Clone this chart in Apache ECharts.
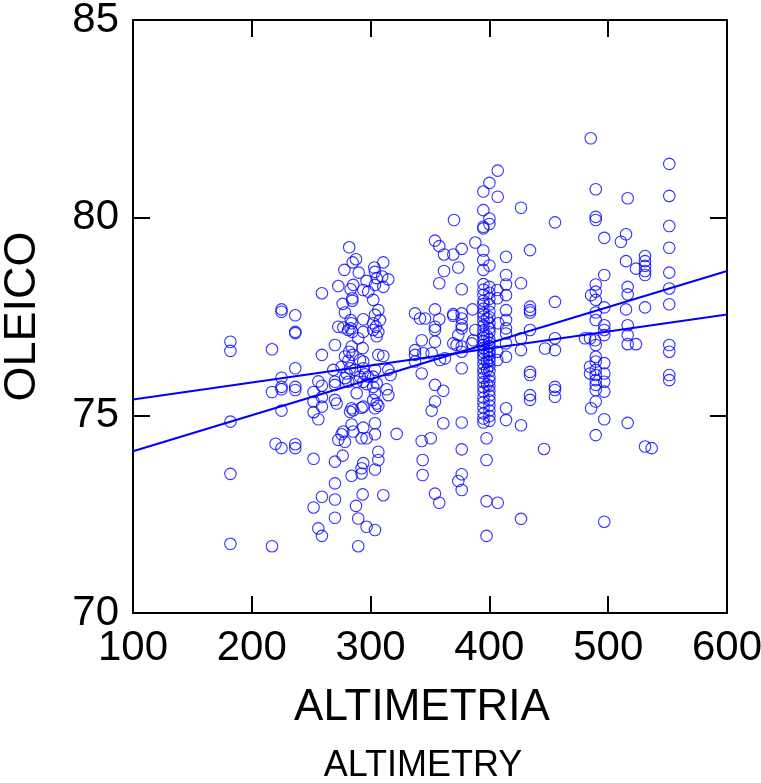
<!DOCTYPE html>
<html>
<head>
<meta charset="utf-8">
<script src="https://cdn.jsdelivr.net/npm/echarts@6/dist/echarts.min.js"></script>
<style>
html,body{margin:0;padding:0;background:#fff;}
#chart{width:761px;height:783px;}
</style>
</head>
<body>
<div id="chart"></div>
<script>
// Axis ticks
const xTicks = [100, 200, 300, 400, 500, 600];
const yTicks = [70, 75, 80, 85];

// Observations [ALTIMETRIA, OLEICO], grouped by altitude region
const ptsLow = [
 [182,76.86],[182,76.63],[182,74.84],[182,73.52],[182,71.75],
 [217,76.67],[217,71.69],[217,75.59],[220,74.28],
 [225,77.68],[225,77.62],[225,75.95],[225,75.72],[225,75.66],[225,75.12],[225,74.17],
 [236.6,77.53],[236.6,77.11],[236.6,77.08],[236.6,76.19],[236.6,75.72],[236.6,75.64],[236.6,74.27],[236.6,74.17],
 [252,75.59],[252,75.35],[252,75.08],[252,73.90],[252,72.67],
 [256,75.86],[256,72.14],[256,74.9],
 [259,78.09],[259,76.53],[259,75.75],[259,75.46],[259,75.22],[259,72.94],[259,71.95]
];
const pts300 = [
 [282,79.25],[287.7,78.95],[284.9,78.87],[277.9,78.68],[290,78.61],[303.1,78.74],[310.7,78.87],[303.7,78.63],
 [272.8,78.27],[285.4,78.30],[283.2,78.19],[296.6,78.40],[293.8,78.17],[298,78.13],[305.1,78.47],[309.8,78.51],
 [314.9,78.44],[310.7,78.25],[303.7,78.30],[284.6,77.96],[284.6,77.90],[302.2,77.92],[276.5,77.82],[278.4,77.60],
 [306.5,77.66],[303.7,77.54],[307.9,77.41],[293.8,77.43],[283.2,77.41],[284,77.33],[283.2,77.20],[284.6,77.11],
 [281.2,77.16],[272.8,77.24],[277,77.22],[302.2,77.33],[304.5,77.24],[302.2,77.16],[306.5,77.11],[305.1,77.0],
 [293.8,77.11],[289.6,76.95],[270,76.78],[284,76.74],[282,76.61],[284.8,76.53],[293.3,76.70],[278.4,76.49],
 [281.2,76.38],[306.5,76.53],[310.7,76.50],[291,76.40],[293.8,76.36],[275.6,76.23],[268.6,76.15],[282.7,76.19],
 [286.9,76.15],[279.8,76.06],[278.4,75.94],[281.2,75.85],[293.8,76.19],[295.3,76.04],[298,75.98],[291,75.98],
 [288.3,75.85],[293.8,75.85],[296.6,75.79],[303.7,76.15],[302.2,75.98],[305.1,75.81],[314.9,76.15],[316.8,76.02],
 [270,75.85],[270,75.77],[288.3,75.56],[302.2,75.72],[303.7,75.56],[313.5,75.66],[314.9,75.51],[270,75.39],
 [271.4,75.30],[284,75.18],[285.4,75.13],[293.8,75.22],[302.2,75.39],[305.1,75.30],[303.7,75.18],[306.5,75.24],
 [337.4,77.58],[341.6,77.45],[343,76.9],[337.4,76.65],[337.4,76.53],[337.4,76.36],[343,76.06],
 [282.7,75.09],[292.4,75.19],[284,74.77],[277,74.59],[275.6,74.52],[272.8,74.38],[278.4,74.33],[285.4,74.59],
 [293.8,74.69],[292.4,74.42],[296.6,74.42],[303.7,74.80],[303.7,74.52],[321.9,74.53],[343,74.35],[270,73.83],
 [276.5,73.98],[306.5,74.08],[306.5,73.87],[303.7,73.63],[293.8,73.79],[292.4,73.66],[292.4,73.53],[284,73.47],
 [343.8,73.87],[343.8,73.49],[270,73.28],[293.3,73.0],[310.7,72.98],[270,72.87],[287.7,72.71],[270,72.41],
 [289.6,72.39],[296.6,72.18],[303.7,72.10],[289.6,71.69]
];
const pts400 = [
 [407,81.19],[400,80.88],[394.9,80.66],[407,80.53],[426.6,80.25],[394.9,80.19],[370.2,79.94],[400,79.98],
 [400,79.84],[394.9,79.77],[394.9,79.73],[455.2,79.88],[354.2,79.42],[357.8,79.28],[388.2,79.37],[376.7,79.21],
 [369.6,79.07],[361.8,79.07],[394.9,79.17],[434.2,79.18],[414,79.01],[394.9,78.93],[400,78.79],[394.9,78.68],
 [373.8,78.74],[361.8,78.65],[414,78.55],[414,78.31],[357.8,78.34],[376.7,78.19],[426.6,78.34],[406.6,78.17],
 [406.6,77.96],[414,78.04],[455.2,77.87],[434.2,77.75],[434.2,77.66],[434.2,77.60],[414,77.66],[414,77.41],
 [385.8,77.68],[376.7,77.58],[376.7,77.45],[369.6,77.56],[369.6,77.52],[354.2,77.68],[357.8,77.43],[345.8,77.45],
 [407.5,77.33],[354.2,77.24],[376.7,77.28],[354.2,77.16],[373.8,77.03],[376.7,77.2],[388.2,77.16],[414,77.2],
 [414,77.07],[414,76.82],[434.2,77.16],[426.6,76.95],[426.6,76.65],[455.2,76.95],[455.2,76.65],[354.2,76.86],
 [369.6,76.82],[372.4,76.78],[376.7,76.74],[376.7,76.61],[385,76.82],[386.4,76.9],[344.4,76.57],[351.4,76.57],
 [358.4,76.4],[362.6,76.44],[406.6,76.61],[406.6,76.4],[414,76.48],[446.8,76.69],[376.7,76.19],[434.2,76.1],
 [434.2,76.02],[455.2,75.72],[455.2,75.64],[455.2,75.47],[434.2,75.51],[434.2,75.39],[354.2,75.77],[361.2,75.62],
 [354.2,75.35],[351.4,75.12],[414,75.18],[414,74.88],[426.6,74.75],[361.2,74.8],[376.7,74.82],[397.6,74.42],
 [397.6,73.87],[397.6,72.83],[397.6,71.95],[350.6,74.42],[376.7,74.14],[446,74.15],[376.7,73.51],[373.8,73.34],
 [376.7,73.11],[354.2,73.02],[357.8,72.79],[407,72.79],[426.6,72.38]
];
// the dense column at about 400 m
const col400 = [
 [395,78.32],[395,78.18],[395,78.05],[395,77.9],[395,77.82],[395,77.7],[395,77.58],[395,77.5],[395,77.38],
 [395,77.27],[395,77.15],[395,77.05],[395,76.97],[395,76.88],[395,76.78],[395,76.7],[395,76.6],[395,76.52],
 [395,76.43],[395,76.3],[395,76.18],[395,76.07],[395,75.95],[395,75.84],[395,75.71],[395,75.6],[395,75.45],
 [395,75.33],[395,75.2],[395,75.05],[395,74.92],[395,74.82],
 [400,78.25],[400,78.1],[400,77.95],[400,77.8],[400,77.62],[400,77.48],[400,77.33],[400,77.2],[400,77.1],
 [400,76.92],[400,76.84],[400,76.75],[400,76.63],[400,76.55],[400,76.45],[400,76.37],[400,76.25],[400,76.12],
 [400,75.98],[400,75.87],[400,75.75],[400,75.62],[400,75.5],[400,75.38],[400,75.25],[400,75.12],[400,74.98],
 [400,74.86],[398,77.45],[398,77.0],[398,76.6],[398,76.35],[398,76.15],[398,75.78]
];
const ptsHigh = [
 [485.3,82.01],[551.4,81.36],[489.5,80.72],[516.4,80.49],[551.4,80.55],[489.5,80.02],[489.5,79.94],[551.4,79.79],
 [496.7,79.49],[515,79.58],[510.7,79.39],[551.4,79.24],[515,78.9],[523.4,78.71],[531,79.03],[531,78.9],
 [531,78.78],[531,78.65],[531,78.55],[551.4,78.61],[496.7,78.55],[489.5,78.31],[485.6,78.04],[489.5,78.13],
 [489.5,77.92],[516.4,78.25],[516.4,78.06],[551.4,78.21],[551.4,77.81],[531,77.73],[496.7,77.73],[515,77.68],
 [489.5,77.60],[489.5,77.41],[496.7,77.28],[516.4,77.28],[496.7,77.16],[496.7,77.03],[516.4,77.03],[516.4,76.8],
 [523.4,76.8],[480.5,76.95],[484.7,76.95],[488.9,76.9],[489.5,76.78],[551.4,76.78],[551.4,76.61],[489.5,76.48],
 [489.5,76.36],[489.5,76.15],[489.5,76.02],[489.5,75.89],[489.5,75.77],[489.5,75.64],[484.7,76.23],[484.7,76.06],
 [496.7,76.32],[496.7,76.06],[496.7,75.85],[496.7,75.6],[489.5,75.35],[485.6,75.18],[551.4,76.02],[551.4,75.89],
 [496.7,74.9],[516.4,74.81],[489.5,74.5],[531,74.21],[536.6,74.17],[496.7,72.31]
];

// Two fitted lines (end points)
const fitFlat = [[100,75.40],[600,77.55]];
const fitSteep = [[100,74.09],[600,78.65]];

const FONT = "'Liberation Sans Narrow','Liberation Sans',Arial,sans-serif";
const BLUE = '#0000ff';

const chart = echarts.init(document.getElementById('chart'), null, {renderer:'canvas'});

const axisLineStyle = {show:true, onZero:false, lineStyle:{color:'#000', width:2}};
const tickStyle = {show:true, inside:true, length:17, lineStyle:{color:'#000', width:2}};

const scatterStyle = {
  type:'scatter', symbol:'circle', symbolSize:11.5,
  itemStyle:{color:'rgba(0,0,0,0)', borderColor:BLUE, borderWidth:1.1},
  silent:true, animation:false, z:3
};

chart.setOption({
  animation:false,
  backgroundColor:'#fff',
  grid:{left:133, right:34, top:20, bottom:170, containLabel:false, outerBoundsMode:'none'},
  xAxis:[
    {type:'value', min:xTicks[0], max:xTicks[xTicks.length-1], interval:100, position:'bottom',
     axisLine:axisLineStyle, axisTick:tickStyle, splitLine:{show:false},
     axisLabel:{color:'#000', fontSize:42, fontFamily:FONT, margin:14},
     name:'ALTIMETRIA', nameLocation:'middle', nameGap:73,
     nameTextStyle:{color:'#000', fontSize:44, fontFamily:FONT, padding:[0,16,0,0]}},
    {type:'value', min:xTicks[0], max:xTicks[xTicks.length-1], interval:100, position:'top',
     axisLine:axisLineStyle, axisTick:tickStyle, splitLine:{show:false}, axisLabel:{show:false}}
  ],
  yAxis:[
    {type:'value', min:yTicks[0], max:yTicks[yTicks.length-1], interval:5, position:'left',
     axisLine:axisLineStyle, axisTick:tickStyle, splitLine:{show:false},
     axisLabel:{color:'#000', fontSize:42, fontFamily:FONT, margin:14},
     name:'OLEICO', nameLocation:'middle', nameGap:88, nameRotate:90,
     nameTextStyle:{color:'#000', fontSize:45, fontFamily:FONT}},
    {type:'value', min:yTicks[0], max:yTicks[yTicks.length-1], interval:5, position:'right',
     axisLine:axisLineStyle, axisTick:tickStyle, splitLine:{show:false}, axisLabel:{show:false}}
  ],
  graphic:[
    {type:'text', x:423, y:748, silent:true,
     style:{text:'ALTIMETRY', textAlign:'center', textVerticalAlign:'top', fill:'#000',
            font:"36px 'Liberation Sans Narrow','Liberation Sans',Arial,sans-serif"}}
  ],
  series:[
    Object.assign({data:ptsLow}, scatterStyle),
    Object.assign({data:pts300}, scatterStyle),
    Object.assign({data:pts400}, scatterStyle),
    Object.assign({data:col400}, scatterStyle),
    Object.assign({data:ptsHigh}, scatterStyle),
    {type:'line', data:fitFlat, showSymbol:false, symbol:'none', silent:true, z:4,
     lineStyle:{color:BLUE, width:2}},
    {type:'line', data:fitSteep, showSymbol:false, symbol:'none', silent:true, z:4,
     lineStyle:{color:BLUE, width:2}}
  ]
});
</script>
</body>
</html>
